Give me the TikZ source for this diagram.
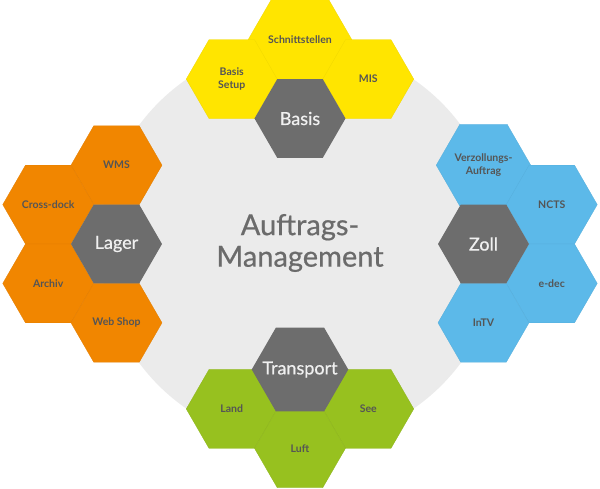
\documentclass[tikz,border=0pt]{standalone}
\usepackage{fontspec}
\setmainfont{Lato}
\newfontfamily\titlefont[FakeBold=0.6]{Lato}
\usetikzlibrary{shapes.geometric}
\definecolor{hexyellow}{HTML}{FFE500}
\definecolor{hexorange}{HTML}{F18600}
\definecolor{hexblue}{HTML}{5CB9E9}
\definecolor{hexgreen}{HTML}{97C11F}
\definecolor{hexgray}{HTML}{6D6D6D}
\definecolor{circlegray}{HTML}{EBEBEB}
\definecolor{labelgray}{HTML}{555555}
\definecolor{titlegray}{HTML}{6B6B6B}
\begin{document}
\begin{tikzpicture}[x=1pt,y=1pt,
  hex/.style={regular polygon, regular polygon sides=6, minimum size=91pt, inner sep=0pt,
    align=center, text=labelgray, font=\bfseries\fontsize{10.5}{12.5}\selectfont},
  yellowhex/.style={hex, fill=hexyellow, draw=hexyellow!94!black, line width=0.3pt},
  orangehex/.style={hex, fill=hexorange, draw=hexorange!94!black, line width=0.3pt},
  bluehex/.style={hex, fill=hexblue, draw=hexblue!94!black, line width=0.3pt},
  greenhex/.style={hex, fill=hexgreen, draw=hexgreen!94!black, line width=0.3pt},
  corehex/.style={hex, fill=hexgray, inner sep=-8pt, text=white!94!black, font=\titlefont\fontsize{18}{20}\selectfont}]
\useasboundingbox (-300,-244) rectangle (300,244);
\fill [circlegray] (0,0) circle (200);
\node [align=center, text=titlegray, font=\titlefont\fontsize{29}{31.5}\selectfont] (title) at (0,1) {Auftrags-\\Management};
% Basis
\node [yellowhex] (schnitt) at (0,204.3) {Schnittstellen};
\node [yellowhex] (setup) at (-68.25,164.9) {Basis\\Setup};
\node [yellowhex] (mis) at (68.25,164.9) {MIS};
\node [corehex] (basis) at (0,125.5) {Basis};
% Lager
\node [orangehex] (wms) at (-183.5,78.8) {WMS};
\node [orangehex] (crossdock) at (-251.75,39.4) {Cross-dock};
\node [orangehex] (archiv) at (-251.75,-39.4) {Archiv};
\node [orangehex] (webshop) at (-183.5,-78.8) {Web Shop};
\node [corehex] (lager) at (-183.5,0) {Lager};
% Zoll
\node [bluehex] (verzoll) at (183.5,78.8) {Verzollungs-\\Auftrag};
\node [bluehex] (ncts) at (251.75,39.4) {NCTS};
\node [bluehex] (edec) at (251.75,-39.4) {e-dec};
\node [bluehex] (intv) at (183.5,-78.8) {InTV};
\node [corehex] (zoll) at (183.5,0) {Zoll};
% Transport
\node [greenhex] (land) at (-68.25,-164.9) {Land};
\node [greenhex] (see) at (68.25,-164.9) {See};
\node [greenhex] (luft) at (0,-204.3) {Luft};
\node [corehex] (transport) at (0,-125.5) {Transport};
\end{tikzpicture}
\end{document}
